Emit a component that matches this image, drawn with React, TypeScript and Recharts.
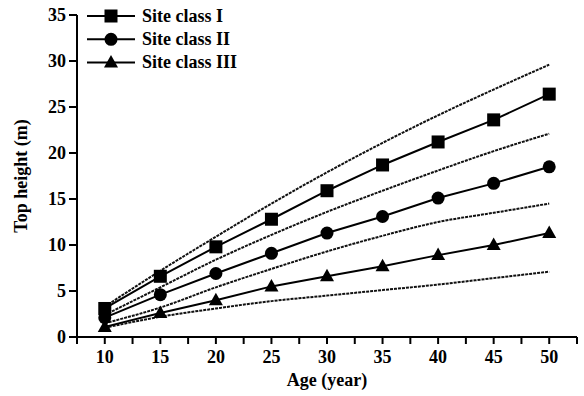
import React from 'react';
import { LineChart, Line, XAxis, YAxis, Legend } from 'recharts';

const ages = [10, 15, 20, 25, 30, 35, 40, 45, 50];
const siteClassI = [3.1, 6.6, 9.8, 12.8, 15.9, 18.7, 21.2, 23.6, 26.4];
const siteClassII = [2.1, 4.6, 6.9, 9.1, 11.3, 13.1, 15.1, 16.7, 18.5];
const siteClassIII = [1.1, 2.6, 4.0, 5.5, 6.6, 7.7, 8.9, 10.0, 11.3];
const curveA = [3.3, 7.2, 10.9, 14.5, 17.9, 21.1, 24.1, 26.9, 29.6];
const curveB = [2.4, 5.4, 8.4, 11.1, 13.6, 15.9, 18.1, 20.2, 22.1];
const curveC = [1.5, 3.2, 5.4, 7.4, 9.3, 11.0, 12.5, 13.5, 14.5];
const curveD = [1.0, 2.2, 3.1, 3.9, 4.5, 5.1, 5.7, 6.4, 7.1];

const xTicks = [7.5, 10, 12.5, 15, 17.5, 20, 22.5, 25, 27.5, 30, 32.5, 35, 37.5, 40, 42.5, 45, 47.5, 50, 52.5];
const yTicks = [0, 5, 10, 15, 20, 25, 30, 35];
const legendNames = ['Site class I', 'Site class II', 'Site class III'];

const data = ages.map((a, i) => ({
  age: a,
  s1: siteClassI[i],
  s2: siteClassII[i],
  s3: siteClassIII[i],
  cA: curveA[i],
  cB: curveB[i],
  cC: curveC[i],
  cD: curveD[i],
}));

const FONT = 'Liberation Serif';
const FS = 18;

const Square = (cx: number, cy: number, key: string) => (
  <rect key={key} x={cx - 6.5} y={cy - 6.5} width={13} height={13} fill="#000" />
);
const Circle = (cx: number, cy: number, key: string) => (
  <circle key={key} cx={cx} cy={cy} r={6.5} fill="#000" />
);
const Triangle = (cx: number, cy: number, key: string) => (
  <polygon key={key} points={`${cx},${cy - 7.5} ${cx + 7},${cy + 5} ${cx - 7},${cy + 5}`} fill="#000" />
);

const markers = [Square, Circle, Triangle];

const XTick = (p: any) => {
  const v = p.payload.value;
  if (v % 5 !== 0) return <g />;
  return (
    <text x={p.x} y={p.y + 16} textAnchor="middle" fontFamily={FONT} fontWeight="bold" fontSize={FS} fill="#000">
      {v}
    </text>
  );
};

const YTick = (p: any) => (
  <text x={p.x - 1} y={p.y + 6} textAnchor="end" fontFamily={FONT} fontWeight="bold" fontSize={FS} fill="#000">
    {p.payload.value}
  </text>
);

const LegendContent = () => (
  <svg width={260} height={80} style={{ display: 'block' }}>
    {legendNames.map((name, i) => {
      const y = 16 + i * 23.3;
      return (
        <g key={name}>
          <line x1={87} x2={135} y1={y} y2={y} stroke="#000" strokeWidth={2} />
          {markers[i](111, y, `lm${i}`)}
          <text x={142} y={y + 5.5} fontFamily={FONT} fontWeight="bold" fontSize={FS} fill="#000">
            {name}
          </text>
        </g>
      );
    })}
  </svg>
);

const XLabel = (p: any) => {
  const vb = p.viewBox;
  return (
    <text x={vb.x + vb.width / 2} y={386} textAnchor="middle" fontFamily={FONT} fontWeight="bold" fontSize={FS} fill="#000">
      Age (year)
    </text>
  );
};

const YLabel = (p: any) => {
  const vb = p.viewBox;
  const cy = vb.y + vb.height / 2;
  return (
    <text x={27} y={cy} transform={`rotate(-90, 27, ${cy})`} textAnchor="middle" fontFamily={FONT} fontWeight="bold" fontSize={FS} fill="#000">
      Top height (m)
    </text>
  );
};

export default function App() {
  return (
    <div style={{ position: 'absolute', left: 0, top: 0, width: 584, height: 396, background: '#fff' }}>
      <LineChart width={584} height={396} data={data} margin={{ top: 15, right: 7, bottom: 0, left: 0 }}>
        <XAxis
          dataKey="age"
          type="number"
          domain={[7.5, 52.5]}
          ticks={xTicks}
          interval={0}
          allowDataOverflow
          height={59}
          axisLine={{ stroke: '#000', strokeWidth: 2 }}
          tickLine={{ stroke: '#000', strokeWidth: 2 }}
          tickSize={7}
          tickMargin={3}
          tick={XTick}
          label={<XLabel />}
        />
        <YAxis
          type="number"
          domain={[0, 35]}
          ticks={yTicks}
          interval={0}
          width={77}
          axisLine={{ stroke: '#000', strokeWidth: 2 }}
          tickLine={{ stroke: '#000', strokeWidth: 2 }}
          tickSize={8}
          tickMargin={2}
          tick={YTick}
          label={<YLabel />}
        />
        <Legend
          layout="vertical"
          align="center"
          verticalAlign="middle"
          wrapperStyle={{ left: 0, top: 0, width: 260, height: 80 }}
          content={() => <LegendContent />}
        />
        {['cA', 'cB', 'cC', 'cD'].map((k) => (
          <Line
            key={k}
            dataKey={k}
            type="monotone"
            stroke="#111"
            strokeWidth={2}
            strokeDasharray="3 1"
            dot={false}
            activeDot={false}
            isAnimationActive={false}
            legendType="none"
          />
        ))}
        <Line
          dataKey="s1"
          type="linear"
          stroke="#000"
          strokeWidth={2}
          dot={(p: any) => Square(p.cx, p.cy, `s1-${p.index}`)}
          activeDot={false}
          isAnimationActive={false}
        />
        <Line
          dataKey="s2"
          type="linear"
          stroke="#000"
          strokeWidth={2}
          dot={(p: any) => Circle(p.cx, p.cy, `s2-${p.index}`)}
          activeDot={false}
          isAnimationActive={false}
        />
        <Line
          dataKey="s3"
          type="linear"
          stroke="#000"
          strokeWidth={2}
          dot={(p: any) => Triangle(p.cx, p.cy, `s3-${p.index}`)}
          activeDot={false}
          isAnimationActive={false}
        />
      </LineChart>
    </div>
  );
}
